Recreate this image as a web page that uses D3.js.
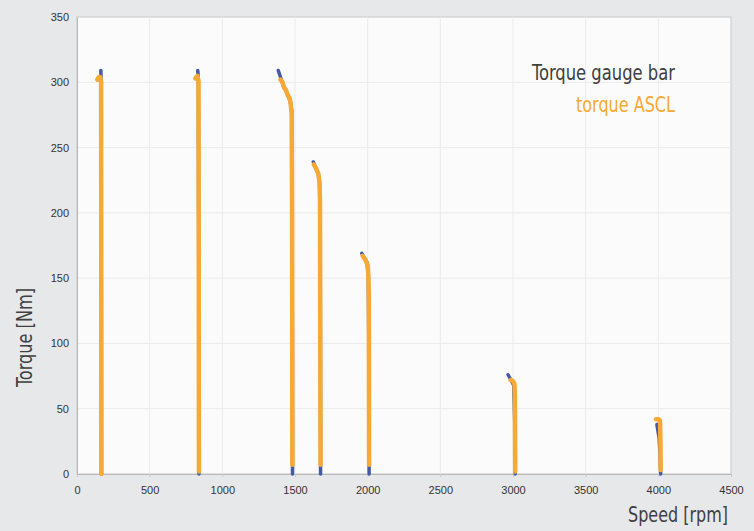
<!DOCTYPE html>
<html>
<head>
<meta charset="utf-8">
<script src="https://cdn.jsdelivr.net/npm/d3@7"></script>
<style>
  body { margin: 0; background: #e7e8ea; }
  .tick text { font-family: 'Liberation Sans', Arial, sans-serif; font-size: 11px; fill: #333; }
  .cond { font-family: 'Liberation Sans Narrow', 'DejaVu Sans Condensed', sans-serif; font-stretch: condensed; }
</style>
</head>
<body>
<div id="chart"></div>
<script>
var width = 754,
	height = 531;

// axis ticks
var speedTicks = [0, 500, 1000, 1500, 2000, 2500, 3000, 3500, 4000, 4500];
var torqueTicks = [0, 50, 100, 150, 200, 250, 300, 350];

// series: one sweep per speed step, points are [speed rpm, torque Nm]
var gaugeBar = [
	[[164, 309], [166, 302], [167, 150], [168, 0]],
	[[831, 309], [835, 302], [838, 150], [839, 0]],
	[[1385, 309], [1400, 304], [1420, 297], [1445, 292], [1466, 286], [1478, 278], [1481, 150], [1483, 0]],
	[[1626, 239], [1640, 235], [1660, 230], [1670, 222], [1674, 150], [1676, 0]],
	[[1960, 169], [1975, 166], [1995, 162], [2004, 153], [2008, 100], [2010, 0]],
	[[2966, 76], [2986, 72], [3005, 68], [3012, 40], [3015, 0]],
	[[3990, 38], [4005, 28], [4012, 15], [4016, 0]]
];

var torqueASCL = [
	[[140, 302], [150, 304], [160, 304], [166, 300], [167, 150], [168, 0]],
	[[815, 303], [828, 305], [836, 301], [838, 150], [839, 2]],
	[[1400, 302], [1415, 300], [1425, 296], [1438, 294], [1450, 290], [1462, 288], [1470, 284], [1477, 276], [1480, 200], [1482, 7]],
	[[1630, 237], [1645, 234], [1660, 230], [1668, 224], [1672, 210], [1674, 100], [1676, 7]],
	[[1966, 167], [1985, 164], [2000, 160], [2005, 152], [2008, 135], [2010, 7]],
	[[2985, 72], [3000, 71], [3010, 69], [3013, 60], [3014, 30], [3015, 2]],
	[[3984, 42], [4000, 42], [4012, 41], [4015, 20], [4016, 3]]
];

var legendLabels = ['Torque gauge bar', 'torque ASCL'];
var colors = ['#4559a8', '#f7a936'];

var margin = {top: 17, right: 23, bottom: 57, left: 77};
var plotW = width - margin.left - margin.right,
	plotH = height - margin.top - margin.bottom;

var svg = d3.select('#chart').append('svg')
	.attr('width', width)
	.attr('height', height);

svg.append('rect')
	.attr('width', width)
	.attr('height', height)
	.style('fill', '#e7e8ea');

var g = svg.append('g')
	.attr('transform', 'translate(' + margin.left + ',' + margin.top + ')');

var x = d3.scaleLinear().domain([0, 4500]).range([0, plotW]);
var y = d3.scaleLinear().domain([0, 350]).range([plotH, 0]);

// plot background
g.append('rect')
	.attr('width', plotW)
	.attr('height', plotH)
	.style('fill', '#fbfbfb')
	.style('stroke', '#c8c8c8')
	.style('stroke-width', 1);

// grid
g.append('g').selectAll('line.vg')
	.data(speedTicks.slice(1, -1))
	.enter().append('line')
	.attr('x1', d => x(d)).attr('x2', d => x(d))
	.attr('y1', 0).attr('y2', plotH)
	.style('stroke', '#ebebeb');

g.append('g').selectAll('line.hg')
	.data(torqueTicks.slice(1, -1))
	.enter().append('line')
	.attr('y1', d => y(d)).attr('y2', d => y(d))
	.attr('x1', 0).attr('x2', plotW)
	.style('stroke', '#ebebeb');

// axes
var xAxis = g.append('g')
	.attr('transform', 'translate(0,' + plotH + ')')
	.call(d3.axisBottom(x).tickValues(speedTicks).tickFormat(d3.format('d')).tickSize(3).tickPadding(9));
var yAxis = g.append('g')
	.call(d3.axisLeft(y).tickValues(torqueTicks).tickFormat(d3.format('d')).tickSize(0).tickPadding(8));

[xAxis, yAxis].forEach(function(a) {
	a.select('.domain').style('stroke', '#b8b8b8');
	a.selectAll('.tick line').style('stroke', '#c8c8c8');
});

// lines
var line = d3.line()
	.x(d => x(d[0]))
	.y(d => y(d[1]));

g.append('g').selectAll('path.gauge')
	.data(gaugeBar)
	.enter().append('path')
	.attr('d', line)
	.style('fill', 'none')
	.style('stroke', colors[0])
	.style('stroke-width', 3.5)
	.style('stroke-linecap', 'round')
	.style('stroke-linejoin', 'round');

g.append('g').selectAll('path.ascl')
	.data(torqueASCL)
	.enter().append('path')
	.attr('d', line)
	.style('fill', 'none')
	.style('stroke', colors[1])
	.style('stroke-width', 4.5)
	.style('stroke-linecap', 'round')
	.style('stroke-linejoin', 'round');

// legend (condensed face squeezed to the original width)
var legendWidths = [143, 99];
svg.selectAll('text.legend')
	.data(legendLabels)
	.enter().append('text')
	.attr('class', 'cond')
	.attr('x', (d, i) => 675 - legendWidths[i])
	.attr('y', (d, i) => 80 + i * 32)
	.attr('textLength', (d, i) => legendWidths[i])
	.attr('lengthAdjust', 'spacingAndGlyphs')
	.style('font-size', '22px')
	.style('fill', (d, i) => i === 0 ? '#404040' : colors[1])
	.text(d => d);

// axis titles
svg.append('text')
	.attr('class', 'cond')
	.attr('transform', 'translate(32,387) rotate(-90)')
	.attr('textLength', 99)
	.attr('lengthAdjust', 'spacingAndGlyphs')
	.style('font-size', '22px')
	.style('fill', '#404040')
	.text('Torque [Nm]');

svg.append('text')
	.attr('class', 'cond')
	.attr('x', 628)
	.attr('y', 522)
	.attr('textLength', 100)
	.attr('lengthAdjust', 'spacingAndGlyphs')
	.style('font-size', '22px')
	.style('fill', '#404040')
	.text('Speed [rpm]');
</script>
</body>
</html>
